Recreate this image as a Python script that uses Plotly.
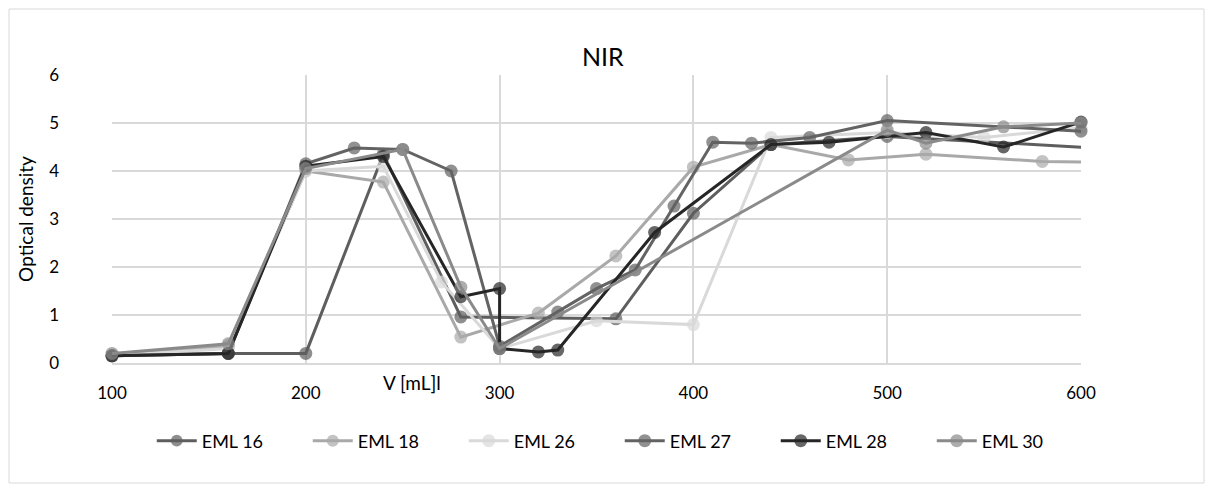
import plotly.graph_objects as go

# NIR optical density versus volume for six EML samples
eml16_v = [100, 160, 200, 240, 280, 360, 400, 440, 500, 620]
eml16_od = [0.15, 0.2, 0.2, 4.35, 0.96, 0.92, 3.12, 4.55, 4.72, 4.45]

eml18_v = [100, 160, 200, 240, 280, 320, 360, 400, 440, 480, 520, 580, 620]
eml18_od = [0.15, 0.35, 4.0, 3.77, 0.54, 1.04, 2.23, 4.08, 4.55, 4.23, 4.35, 4.2, 4.18]

eml26_v = [100, 160, 200, 240, 270, 300, 350, 400, 440, 500, 550, 600]
eml26_od = [0.15, 0.3, 4.0, 4.1, 1.69, 0.3, 0.88, 0.8, 4.7, 4.8, 4.7, 4.9]

eml27_v = [100, 160, 200, 225, 250, 275, 300, 330, 350, 370, 390, 410, 430, 460, 500, 600]
eml27_od = [0.15, 0.2, 4.15, 4.48, 4.45, 4.0, 0.35, 1.06, 1.55, 1.94, 3.27, 4.6, 4.58, 4.7, 5.05, 4.83]

eml28_v = [100, 160, 200, 240, 280, 300, 300, 320, 330, 380, 440, 470, 520, 560, 600]
eml28_od = [0.15, 0.2, 4.1, 4.3, 1.38, 1.55, 0.3, 0.23, 0.27, 2.72, 4.55, 4.6, 4.8, 4.5, 5.02]

eml30_v = [100, 160, 200, 250, 280, 300, 500, 520, 560, 600]
eml30_od = [0.2, 0.4, 4.05, 4.45, 1.58, 0.3, 4.85, 4.58, 4.92, 5.0]

series = [
    ("EML 16", eml16_v, eml16_od, "#5e5e5e"),
    ("EML 18", eml18_v, eml18_od, "#a9a9a9"),
    ("EML 26", eml26_v, eml26_od, "#d9d9d9"),
    ("EML 27", eml27_v, eml27_od, "#636363"),
    ("EML 28", eml28_v, eml28_od, "#262626"),
    ("EML 30", eml30_v, eml30_od, "#8a8a8a"),
]

FONT = "Lato, 'Open Sans', sans-serif"

fig = go.Figure()
for name, xv, yv, col in series:
    # points past the axis end only carry the line to the edge
    sizes = [13 if x <= 600 else 0 for x in xv]
    fig.add_trace(go.Scatter(
        x=xv, y=yv, name=name, mode="lines+markers",
        line=dict(color=col, width=3),
        marker=dict(color=col, size=sizes, line=dict(width=0)),
        cliponaxis=False,
    ))

L, R, T, B = 112, 132, 75, 129
W, H = 1213, 492
pw, ph = W - L - R, H - T - B

fig.update_layout(
    width=W, height=H,
    margin=dict(l=L, r=R, t=T, b=B),
    paper_bgcolor="white", plot_bgcolor="white",
    font=dict(family=FONT, color="#000000"),
    title=dict(text="NIR", x=0.497, xanchor="center", y=1 - 57 / H, yanchor="middle",
               font=dict(size=25, family=FONT, color="#000000")),
    showlegend=True,
    legend=dict(orientation="h", x=0.524, xanchor="center", y=(T + ph - 441) / ph,
                yanchor="middle", font=dict(size=18, family=FONT, color="#000000"),
                itemwidth=40, entrywidth=101, entrywidthmode="pixels",
                tracegroupgap=0, bgcolor="rgba(0,0,0,0)"),
    xaxis=dict(range=[100, 600], tickvals=[100, 200, 300, 400, 500, 600],
               showgrid=True, gridcolor="#d9d9d9", gridwidth=1.5,
               zeroline=False, showline=True, linecolor="#d9d9d9", linewidth=1.5,
               ticks="", tickfont=dict(size=17, family=FONT, color="#000000"),
               ticklabelstandoff=14),
    yaxis=dict(range=[0, 6], tickvals=[0, 1, 2, 3, 4, 5, 6],
               showgrid=True, gridcolor="#d9d9d9", gridwidth=1.5,
               zeroline=False, showline=False, ticks="",
               tickfont=dict(size=17, family=FONT, color="#000000"),
               ticklabelstandoff=52,
               title=dict(text="Optical density", standoff=10,
                          font=dict(size=19, family=FONT, color="#000000"))),
    annotations=[dict(text="V [mL]l", xref="paper", yref="paper",
                      x=(412 - L) / pw, y=(T + ph - 382) / ph,
                      xanchor="center", yanchor="middle", showarrow=False,
                      font=dict(size=19, family=FONT, color="#000000"))],
    shapes=[dict(type="rect", xref="paper", yref="paper",
                 x0=(9 - L) / pw, x1=(1204 - L) / pw,
                 y0=(T + ph - 483) / ph, y1=(T + ph - 9) / ph,
                 line=dict(color="#d9d9d9", width=1), fillcolor="rgba(0,0,0,0)",
                 layer="below")],
)

fig.write_html("out.html")
